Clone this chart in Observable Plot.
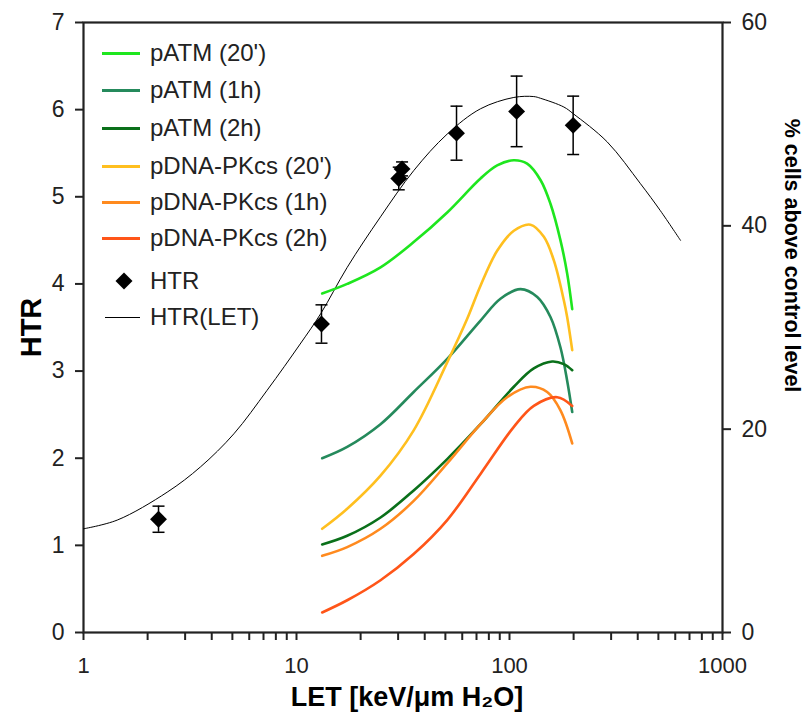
<!DOCTYPE html>
<html><head><meta charset="utf-8">
<script src="https://cdn.jsdelivr.net/npm/d3@7"></script>
<script src="https://cdn.jsdelivr.net/npm/@observablehq/plot@0.6"></script>
<style>
body{margin:0;background:#fff;}
#wrap{position:relative;width:807px;height:714px;font-family:"Liberation Sans",Arial,sans-serif;}
.lg{position:absolute;left:150px;height:28px;line-height:28px;font-size:24px;color:#222;white-space:nowrap;}
.sw{position:absolute;left:102px;width:38px;height:3px;}
</style></head><body><div id="wrap"></div>
<script>
// ---- data ----
const pATM20  = [[13.2,3.89],[17.3,4.00],[24.8,4.19],[35.5,4.48],[51,4.82],[73.1,5.21],[87.5,5.36],[104.8,5.42],[121,5.38],[140,5.19],[155.7,4.92],[173.5,4.50],[186.5,4.12],[197,3.71]];
const pATM1h  = [[13.2,2.00],[17.3,2.13],[24.8,2.39],[35.5,2.76],[51,3.14],[73.1,3.58],[90.7,3.83],[112.6,3.94],[135,3.85],[155.7,3.62],[173.5,3.27],[186.5,2.89],[197,2.53]];
const pATM2h  = [[13.2,1.01],[17.3,1.11],[24.8,1.32],[35.5,1.63],[51,1.99],[73.1,2.39],[104.8,2.82],[130,3.03],[158.5,3.11],[180,3.08],[197,3.01]];
const pDNA20  = [[13.2,1.19],[17.3,1.42],[24.8,1.80],[35.5,2.32],[51,3.10],[63.3,3.60],[73.1,3.98],[87.5,4.38],[104.8,4.61],[125.5,4.68],[145,4.54],[161.5,4.27],[180,3.81],[186.5,3.62],[197,3.24]];
const pDNA1h  = [[13.2,0.88],[17.3,0.98],[24.8,1.19],[35.5,1.51],[51,1.94],[73.1,2.39],[97.5,2.70],[125.5,2.82],[150.3,2.76],[173.5,2.55],[197,2.17]];
const pDNA2h  = [[13.2,0.23],[17.3,0.37],[24.8,0.60],[35.5,0.90],[51,1.29],[73.1,1.82],[104.8,2.36],[130,2.60],[167.5,2.70],[197,2.60]];
const htrFit  = [[1,1.19],[1.44,1.29],[2.47,1.61],[3.54,1.90],[5.08,2.28],[7.28,2.78],[10.4,3.31],[13.0,3.66],[17.3,4.19],[24.8,4.77],[35.5,5.30],[51,5.72],[73.1,6.01],[104.8,6.14],[130,6.15],[140,6.13],[180,6.03],[200,5.95],[287.5,5.63],[412,5.15],[511,4.84],[635,4.50]];
const htrX    = [2.25, 13.1, 30.2, 31.3, 56.4, 108, 199];
const htrY    = [1.30, 3.54, 5.21, 5.32, 5.73, 5.98, 5.82];
const htrErr  = [0.15, 0.22, 0.13, 0.08, 0.31, 0.405, 0.335];
const seriesNames  = ["pATM (20')","pATM (1h)","pATM (2h)","pDNA-PKcs (20')","pDNA-PKcs (1h)","pDNA-PKcs (2h)"];
const seriesColors = ["#1ee61e","#258a5c","#0a701a","#ffbf1f","#ff8a1e","#ff5518"];
const seriesData   = [pATM20, pATM1h, pATM2h, pDNA20, pDNA1h, pDNA2h];
const leftTicks  = [0,1,2,3,4,5,6,7];
const rightTicks = [0,20,40,60];
const xTicks     = [1,2,3,4,5,6,7,8,9,10,20,30,40,50,60,70,80,90,100,200,300,400,500,600,700,800,900,1000];
const xLabels    = [1,10,100,1000];

// ---- build ----
const lineData = seriesData.flatMap((s,i) => s.map(([x,y]) => ({x, y, name: seriesNames[i]})));
const fitData = htrFit.map(([x,y]) => ({x,y}));
const pts = htrX.map((x,i) => ({x, y: htrY[i], e: htrErr[i]}));
const caps = pts.flatMap(d => [{x:d.x, y:d.y-d.e},{x:d.x, y:d.y+d.e}]);
const capSymbol = {draw(ctx){ ctx.moveTo(-6,0); ctx.lineTo(6,0); }};
const RMAX = 60, YMAX = 7;

const plot = Plot.plot({
  width: 807, height: 714,
  marginLeft: 83, marginRight: 85, marginTop: 22, marginBottom: 82,
  style: {fontFamily: "'Liberation Sans', Arial, sans-serif", fontSize: "23px", color: "#222", background: "#fff"},
  x: {type: "log", domain: [1, 1000]},
  y: {domain: [0, YMAX]},
  color: {domain: seriesNames, range: seriesColors},
  marks: [
    Plot.axisY({ticks: leftTicks, tickFormat: d => String(d), tickSize: 8, tickPadding: 11, strokeWidth: 2, label: null, fontSize: 23}),
    Plot.axisY({anchor: "right", ticks: rightTicks.map(v => v / RMAX * YMAX), tickFormat: y => String(Math.round(y * RMAX / YMAX)), tickSize: 8, tickPadding: 11, strokeWidth: 2, label: null, fontSize: 23}),
    Plot.axisX({ticks: xTicks, tickFormat: d => xLabels.includes(d) ? String(d) : "", tickSize: 8, tickPadding: 17, strokeWidth: 2, label: null, fontSize: 22}),
    Plot.frame({strokeWidth: 2.2}),
    Plot.line(fitData, {x: "x", y: "y", stroke: "#000", strokeWidth: 1, curve: "catmull-rom"}),
    Plot.line(lineData, {x: "x", y: "y", z: "name", stroke: "name", strokeWidth: 2.6, curve: "catmull-rom"}),
    Plot.ruleX(pts, {x: "x", y1: d => d.y - d.e, y2: d => d.y + d.e, stroke: "#000", strokeWidth: 1.5}),
    Plot.dot(caps, {x: "x", y: "y", symbol: capSymbol, stroke: "#000", strokeWidth: 1.5, fill: "none", r: 3}),
    Plot.dot(pts, {x: "x", y: "y", symbol: "diamond2", r: 7.6, fill: "#000", stroke: "none"}),
    Plot.text(["HTR"], {frameAnchor: "left", dx: -52, rotate: -90, textAnchor: "middle", lineAnchor: "middle", fontSize: 29, fontWeight: "bold", fill: "#000"}),
    Plot.text(["LET [keV/\u03bcm H\u2082O]"], {frameAnchor: "bottom", dx: 4, dy: 65, textAnchor: "middle", lineAnchor: "middle", fontSize: 27, fontWeight: "bold", fill: "#000"}),
    Plot.text(["% cells above control level"], {frameAnchor: "right", dx: 69, dy: -72, rotate: 90, textAnchor: "middle", lineAnchor: "middle", fontSize: 21.5, fontWeight: "bold", fill: "#000"})
  ]
});
const wrap = document.getElementById("wrap");
wrap.appendChild(plot);

// legend overlay
const rowsY = [53, 90, 128, 166, 202, 238];
seriesNames.forEach((n, i) => {
  const sw = document.createElement("div"); sw.className = "sw";
  sw.style.top = (rowsY[i] - 1.5) + "px"; sw.style.background = seriesColors[i];
  wrap.appendChild(sw);
  const t = document.createElement("div"); t.className = "lg";
  t.style.top = (rowsY[i] - 14) + "px"; t.textContent = n;
  wrap.appendChild(t);
});
const dm = document.createElement("div");
dm.style.cssText = "position:absolute;left:118px;top:275px;width:12px;height:12px;background:#000;transform:rotate(45deg);";
wrap.appendChild(dm);
const t1 = document.createElement("div"); t1.className = "lg"; t1.style.top = (281 - 14) + "px"; t1.textContent = "HTR"; wrap.appendChild(t1);
const ln = document.createElement("div");
ln.style.cssText = "position:absolute;left:105px;top:317px;width:35px;height:1px;background:#000;";
wrap.appendChild(ln);
const t2 = document.createElement("div"); t2.className = "lg"; t2.style.top = (317 - 14) + "px"; t2.textContent = "HTR(LET)"; wrap.appendChild(t2);
</script></body></html>
